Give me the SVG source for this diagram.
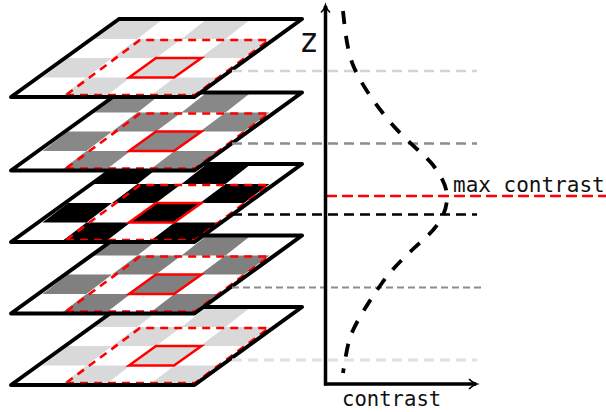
<svg xmlns="http://www.w3.org/2000/svg" xmlns:xlink="http://www.w3.org/1999/xlink" width="606" height="412" viewBox="0 0 606 412">
  <style>
    .label { font-family: "DejaVu Sans Mono", monospace; fill: #111; }
    .outline { fill: none; stroke: #000; stroke-width: 4; stroke-linejoin: round; }
    .base { fill: #fff; }
    .field { fill: none; stroke: #f00; stroke-width: 2.600; stroke-dasharray: 8 6; }
    .center { fill: none; stroke: #f00; stroke-width: 2.500; }
    .axis { fill: none; stroke: #000; stroke-width: 3.500; }
    .head { fill: none; stroke: #000; stroke-width: 1.600; }
    .level { fill: none; }
  </style>
  <defs>
    <g id="plate">
      <polygon class="base" points="119,19 302,19 194,97 11,97"/>
      <path d="M119,19H163L137.5,39H93.5Z M207,19H251L225.500,39H181.500Z M137.5,39H181.500L156,58H112Z M225.500,39H269.500L244,58H200Z M68,58H112L86.500,77.500H42.500Z M156,58H200L174.500,77.500H130.500Z M86.500,77.500H130.500L105,97H61Z M174.500,77.500H218.500L193,97H149Z"/>
      <polygon class="field" points="66,95 195,95 269,40 140,40"/>
      <polygon class="center" points="129,77.500 174,77.500 201.500,58 156,58"/>
      <polygon class="outline" points="119,19 302,19 194.500,97 11,97"/>
    </g>
  </defs>

  <!-- Plates are painted from the lowest up, so each one overlaps the next -->
  <g id="layer-5"><use href="#plate" y="288" fill="#d9d9d9"/></g>
  <g id="layer-4"><use href="#plate" y="216.500" fill="#808080"/></g>
  <g id="layer-3"><use href="#plate" y="145" fill="#000"/></g>
  <g id="layer-2"><use href="#plate" y="73.500" fill="#888"/></g>
  <g id="layer-1"><use href="#plate" y="0" fill="#d9d9d9"/></g>

  <g id="connectors">
    <path class="level" d="M232,71H477" stroke="#d4d4d4" stroke-width="2.500" stroke-dasharray="10 6"/>
    <path class="level" d="M232,143.500H477" stroke="#8c8c8c" stroke-width="2.500" stroke-dasharray="10 6"/>
    <path class="level" d="M232,214.500H477" stroke="#000" stroke-width="2.500" stroke-dasharray="10 6"/>
    <path class="level" d="M232,287.500H483" stroke="#8c8c8c" stroke-width="1.800" stroke-dasharray="7 4"/>
    <path class="level" d="M232,360H477" stroke="#e0e0e0" stroke-width="3" stroke-dasharray="10 6"/>
    <path class="level" d="M326,196H606" stroke="#f00" stroke-width="2.500" stroke-dasharray="11 5"/>
    <path id="z-axis" class="axis" d="M325.500,385.500V6"/>
    <path class="head" d="M321,12.500Q324,10 325.500,5Q327,10 330,12.500"/>
    <path id="contrast-axis" class="axis" d="M324,384H476"/>
    <path class="head" d="M469,379Q472,382.500 477,384Q472,385.500 469,389"/>
    <path id="contrast-curve" fill="none" stroke="#000" stroke-width="3.800" stroke-dasharray="13 12" d="M343,11C345,30 347,50 353,65C360,82 372,100 390,122C405,140 425,155 433,165C442,177 447,187 447,197C447,212 440,225 423,240C410,252 395,265 382,283C368,303 357,320 350,337C347,348 345,360 343,373"/>
  </g>

  <text class="label" x="299" y="52" font-size="33">z</text>
  <text class="label" x="453" y="192" font-size="21">max contrast</text>
  <text class="label" x="342" y="406" font-size="20.600">contrast</text>
</svg>
